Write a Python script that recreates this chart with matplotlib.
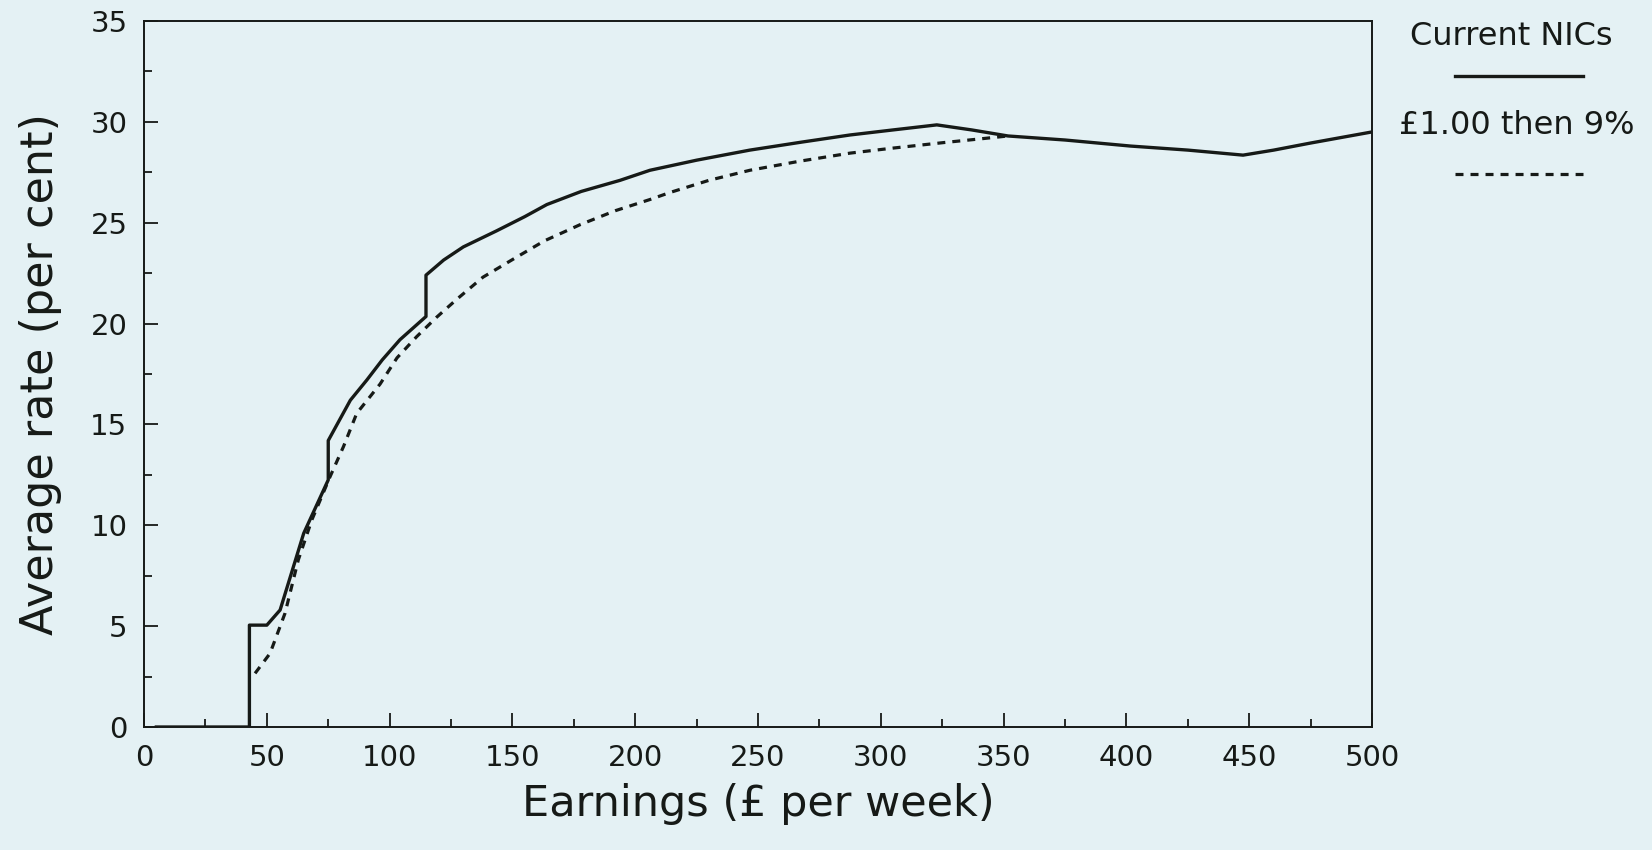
import matplotlib
matplotlib.use('Agg')
import matplotlib.pyplot as plt
from matplotlib.lines import Line2D

# Current NICs (solid)
cur_x = [5, 42.9, 42.9, 50, 55.4, 65, 75, 75, 84, 90.7, 97, 104.2, 114.8, 114.8,
         122, 130, 143.6, 155, 164, 178, 193.8, 206, 225, 246.7, 268, 287.5, 305,
         322.8, 337, 351.8, 375, 401.7, 425, 447.5, 460, 475, 500]
cur_y = [0, 0, 5.05, 5.05, 5.8, 9.6, 12.25, 14.2, 16.2, 17.2, 18.2, 19.2, 20.35, 22.4,
         23.15, 23.8, 24.6, 25.3, 25.9, 26.55, 27.1, 27.6, 28.1, 28.6, 29.0, 29.35, 29.6,
         29.85, 29.6, 29.3, 29.1, 28.8, 28.6, 28.35, 28.6, 28.95, 29.5]

# £1.00 then 9% (dashed)
alt_x = [45.2, 51.3, 57.4, 62.8, 68.3, 75.7, 81.2, 86.6, 96.1, 103, 111, 119, 127.3,
         138, 150.4, 163, 177.5, 192, 206, 214.2, 230, 246.7, 267, 287.5, 305,
         325.4, 340, 351.8]
alt_y = [2.66, 3.65, 5.64, 8.28, 10.26, 12.4, 13.9, 15.55, 17.0, 18.3, 19.35, 20.3, 21.2,
         22.3, 23.2, 24.1, 24.9, 25.6, 26.15, 26.5, 27.1, 27.6, 28.05, 28.45, 28.7,
         28.97, 29.15, 29.3]

series_names = ['Current NICs', '£1.00 then 9%']
x_ticks = [0, 50, 100, 150, 200, 250, 300, 350, 400, 450, 500]
y_ticks = [0, 5, 10, 15, 20, 25, 30, 35]

bg = '#e4f1f4'
ink = '#161a17'

fig = plt.figure(figsize=(16.52, 8.5), dpi=100, facecolor=bg)
ax = fig.add_axes([0.0872, 0.1447, 0.7433, 0.8306])
ax.set_facecolor(bg)

ax.plot(cur_x, cur_y, color=ink, lw=2.4, solid_joinstyle='round')
ln, = ax.plot(alt_x, alt_y, color=ink, lw=2.3, dash_capstyle='butt')
ln.set_dashes((2.5, 2.2))

ax.set_xlim(0, 500)
ax.set_ylim(0, 35)
ax.set_xticks(x_ticks)
ax.set_yticks(y_ticks)
ax.set_xticks(range(25, 500, 50), minor=True)
ax.set_yticks([2.5 + 5 * i for i in range(7)], minor=True)
ax.tick_params(which='both', direction='in', color=ink, width=1.3,
               labelsize=21, labelcolor=ink, pad=12)
ax.tick_params(which='major', length=10)
ax.tick_params(which='minor', length=6)
for s in ax.spines.values():
    s.set_linewidth(1.4)
    s.set_color(ink)

ax.set_xlabel('Earnings (£ per week)', fontsize=31, color=ink, labelpad=8)
ax.set_ylabel('Average rate (per cent)', fontsize=32, color=ink, labelpad=20)

# legend drawn at the right, outside the axes
fig.text(0.915, 0.957, series_names[0], fontsize=23, color=ink, ha='center', va='center')
fig.add_artist(Line2D([0.881, 0.958], [0.911, 0.911], transform=fig.transFigure,
                      color=ink, lw=2.4))
fig.text(0.918, 0.852, series_names[1], fontsize=23, color=ink, ha='center', va='center')
dl = Line2D([0.881, 0.958], [0.795, 0.795], transform=fig.transFigure,
            color=ink, lw=2.3, dash_capstyle='butt')
dl.set_dashes((2.5, 2.2))
fig.add_artist(dl)

fig.savefig('out.png', dpi=100, facecolor=bg)
